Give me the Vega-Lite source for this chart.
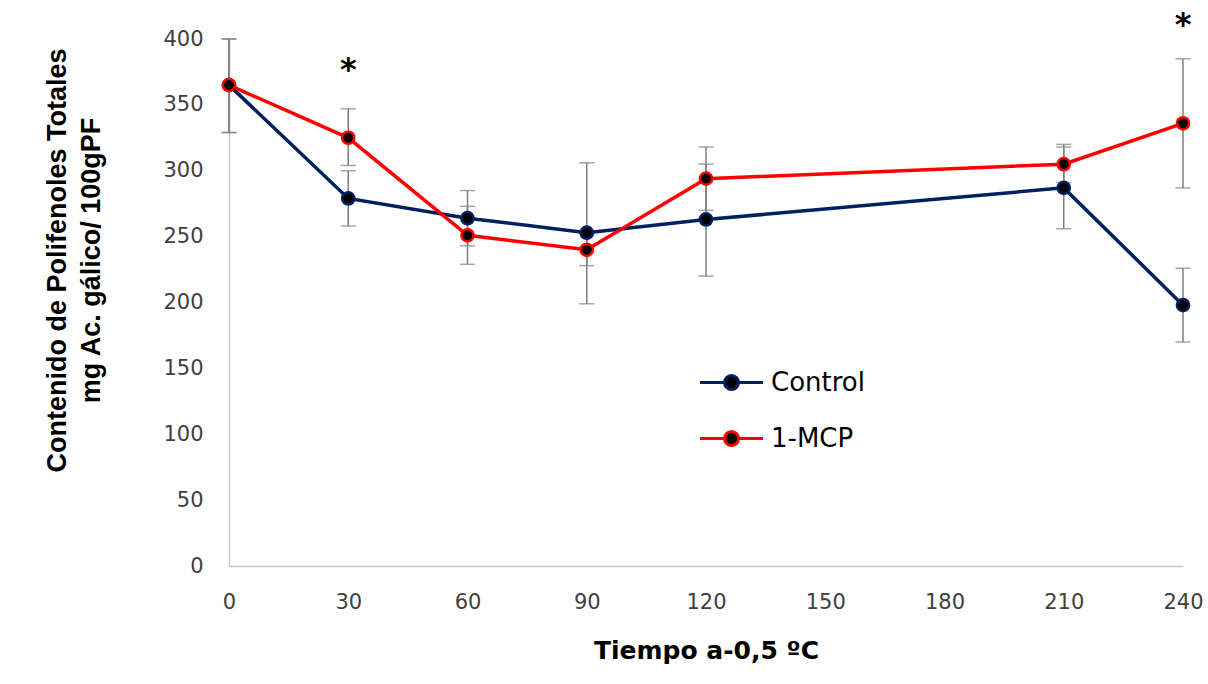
{
  "$schema": "https://vega.github.io/schema/vega-lite/v6.json",
  "width": 954,
  "height": 527,
  "autosize": {"type": "none"},
  "padding": {"left": 229, "top": 39, "right": 25, "bottom": 118},
  "background": "white",
  "config": {
    "view": {"stroke": null},
    "axis": {"grid": false, "ticks": false, "domainColor": "#c8c8c8", "domainWidth": 1.5, "labelFlush": false,
             "labelFont": "DejaVu Sans", "labelFontSize": 21, "labelColor": "#404040",
             "titleFont": "Liberation Sans", "titleFontWeight": "bold", "titleColor": "#000000"}
  },
  "datasets": {
    "pts": [
      {"t": 0, "series": "Control", "v": 365, "lo": 329, "hi": 400},
      {"t": 30, "series": "Control", "v": 279, "lo": 258, "hi": 300},
      {"t": 60, "series": "Control", "v": 264, "lo": 243, "hi": 285},
      {"t": 90, "series": "Control", "v": 253, "lo": 199, "hi": 306},
      {"t": 120, "series": "Control", "v": 263, "lo": 220, "hi": 305},
      {"t": 210, "series": "Control", "v": 287, "lo": 256, "hi": 318},
      {"t": 240, "series": "Control", "v": 198, "lo": 170, "hi": 226},
      {"t": 0, "series": "1-MCP", "v": 365, "lo": 329, "hi": 400},
      {"t": 30, "series": "1-MCP", "v": 325, "lo": 304, "hi": 347},
      {"t": 60, "series": "1-MCP", "v": 251, "lo": 229, "hi": 273},
      {"t": 90, "series": "1-MCP", "v": 240, "lo": 228, "hi": 252},
      {"t": 120, "series": "1-MCP", "v": 294, "lo": 270, "hi": 318},
      {"t": 210, "series": "1-MCP", "v": 305, "lo": 291, "hi": 320},
      {"t": 240, "series": "1-MCP", "v": 336, "lo": 287, "hi": 385}
    ],
    "stars": [
      {"t": 30, "y": 369, "label": "*"},
      {"t": 240, "y": 403, "label": "*"}
    ]
  },
  "encoding": {
    "x": {"field": "t", "type": "quantitative",
          "scale": {"domain": [0, 240], "nice": false, "zero": false},
          "axis": {"values": [0, 30, 60, 90, 120, 150, 180, 210, 240], "labelPadding": 25,
                   "title": "Tiempo a-0,5 ºC", "titleFont": "DejaVu Sans", "titleFontSize": 25, "titlePadding": 26}}
  },
  "resolve": {"scale": {"stroke": "independent"}, "legend": {"stroke": "independent"}},
  "layer": [
    {
      "data": {"name": "pts"},
      "mark": {"type": "errorbar", "color": "#7f7f7f", "thickness": 1.5, "ticks": {"size": 15, "color": "#7f7f7f", "thickness": 1.5}},
      "encoding": {
        "y": {"field": "lo", "type": "quantitative",
              "scale": {"domain": [0, 400], "nice": false},
              "axis": {"values": [0, 50, 100, 150, 200, 250, 300, 350, 400], "labelPadding": 26,
                       "title": ["Contenido de Polifenoles Totales", "mg Ac. gálico/ 100gPF"],
                       "titleFontSize": 27, "titleLineHeight": 34, "titleX": -158, "titleY": 221}},
        "y2": {"field": "hi"}
      }
    },
    {
      "data": {"name": "pts"},
      "mark": {"type": "line", "strokeWidth": 3.5},
      "encoding": {
        "y": {"field": "v", "type": "quantitative"},
        "stroke": {"field": "series", "type": "nominal", "legend": null,
                   "scale": {"domain": ["Control", "1-MCP"], "range": ["#002060", "#ff0000"]}}
      }
    },
    {
      "data": {"name": "pts"},
      "mark": {"type": "point", "filled": true, "fill": "#000000", "size": 150, "strokeWidth": 2.5, "opacity": 1},
      "encoding": {
        "y": {"field": "v", "type": "quantitative"},
        "stroke": {"field": "series", "type": "nominal",
                   "scale": {"domain": ["Control", "1-MCP"], "range": ["#002060", "#ff0000"]},
                   "legend": {"title": null, "orient": "none", "legendX": 486, "legendY": 327, "padding": 0,
                              "symbolType": "M-2.1,0L-0.47,0M0.47,0L2.1,0M-0.47,0A0.47,0.47,0,1,1,0.47,0A0.47,0.47,0,1,1,-0.47,0Z",
                              "symbolSize": 900, "symbolStrokeWidth": 3, "symbolFillColor": "#000000", "symbolOpacity": 1,
                              "labelFont": "DejaVu Sans", "labelFontSize": 26, "labelColor": "#000000",
                              "labelOffset": 23, "rowPadding": 26}}
      }
    },
    {
      "data": {"name": "stars"},
      "mark": {"type": "text", "font": "DejaVu Sans", "fontSize": 32, "fontWeight": "bold", "baseline": "alphabetic", "align": "center", "color": "#000000"},
      "encoding": {
        "y": {"field": "y", "type": "quantitative"},
        "text": {"field": "label"}
      }
    }
  ]
}
